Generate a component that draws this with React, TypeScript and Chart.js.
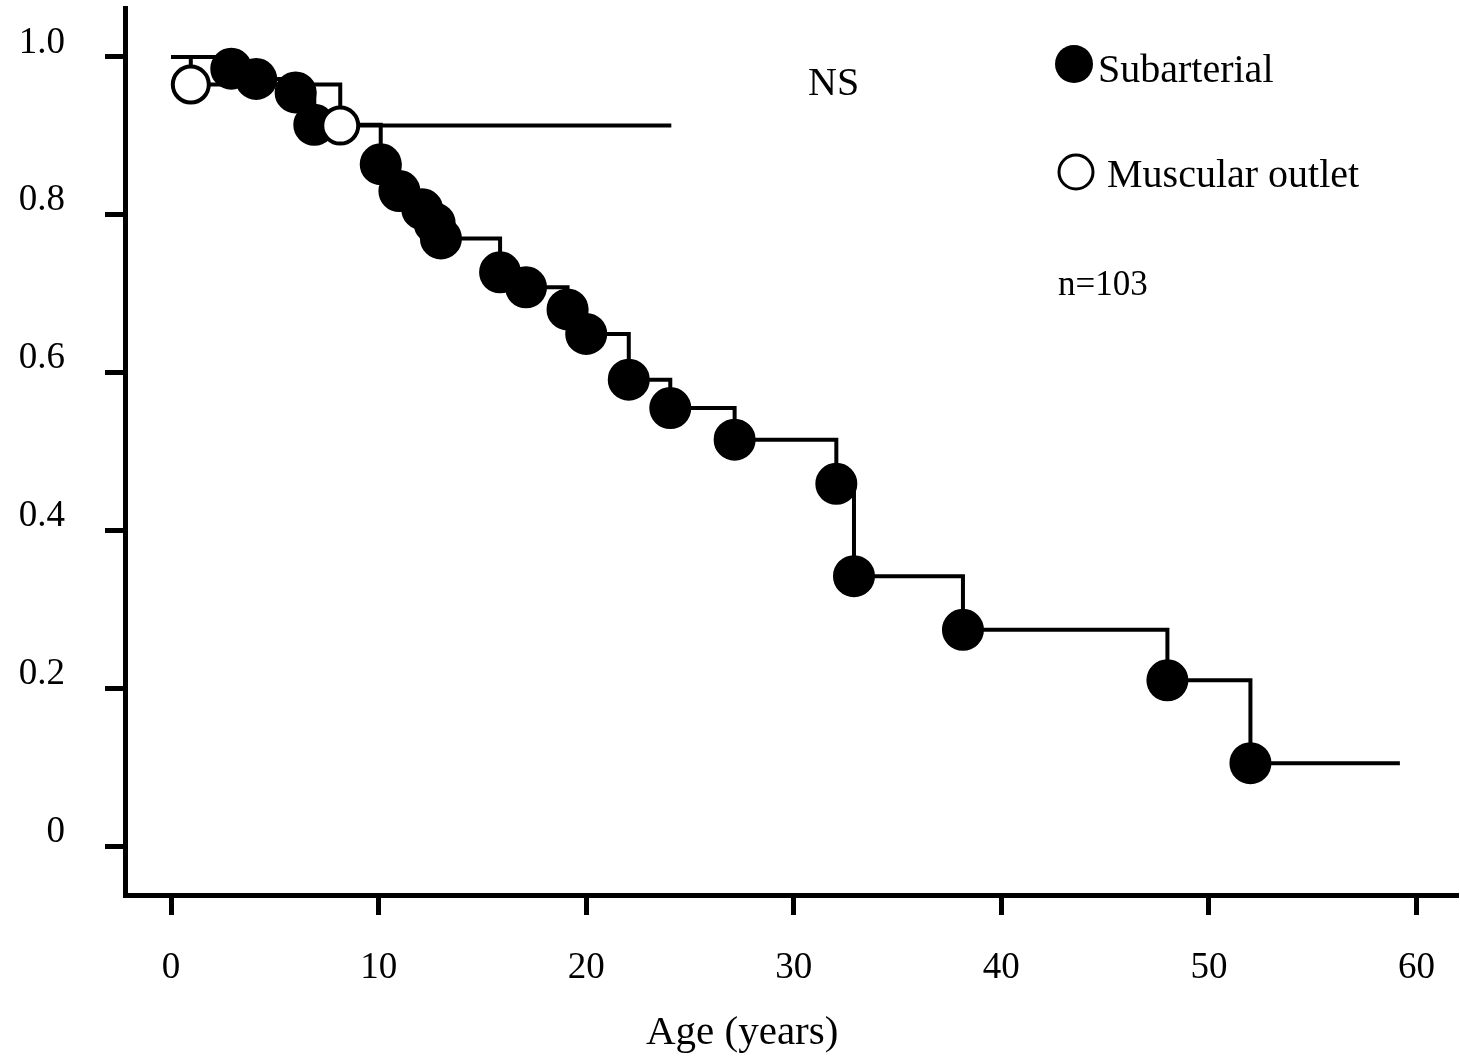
import React, { useEffect, useRef } from 'react';
import { Chart, registerables } from 'chart.js';

Chart.register(...registerables);

const SERIF = "'Liberation Serif', 'Times New Roman', serif";

// Axis ticks
const xTickValues = [0, 10, 20, 30, 40, 50, 60];
const yTickValues = [0, 0.2, 0.4, 0.6, 0.8, 1.0];

// Subarterial: ages (years) of events and survival after each event
const subarterialAge = [2.9, 4.1, 6.0, 6.9, 10.1, 11.0, 12.1, 12.7, 13.0, 15.85, 17.1, 19.1, 20.0, 22.05, 24.05, 27.15, 32.05, 32.9, 38.15, 48.0, 52.0];
const subarterialSurvival = [0.985, 0.972, 0.955, 0.914, 0.864, 0.830, 0.807, 0.789, 0.770, 0.727, 0.708, 0.680, 0.649, 0.591, 0.555, 0.515, 0.459, 0.342, 0.274, 0.210, 0.105];
const subarterialLastFollowUp = 59.2;

// Muscular outlet
const muscularAge = [0.95, 8.15];
const muscularSurvival = [0.965, 0.913];
const muscularLastFollowUp = 24.1;

const legendLabels = ['Subarterial', 'Muscular outlet'];
const noteText = 'n=103';
const significanceText = 'NS';
const xAxisTitle = 'Age (years)';

function buildCurve(ages: number[], surv: number[], end: number) {
  return [
    { x: 0, y: 1 },
    ...ages.map((a, i) => ({ x: a, y: surv[i] })),
    { x: end, y: surv[surv.length - 1] },
  ];
}

const annotationPlugin = {
  id: 'annotationPlugin',
  afterDraw(chart: any) {
    const ctx = chart.ctx as CanvasRenderingContext2D;
    ctx.save();
    ctx.fillStyle = '#000';
    ctx.strokeStyle = '#000';
    ctx.textAlign = 'left';
    ctx.textBaseline = 'alphabetic';
    ctx.font = `40px ${SERIF}`;
    ctx.fillText(significanceText, 808, 95);

    // legend
    ctx.beginPath();
    ctx.arc(1074, 64, 19, 0, Math.PI * 2);
    ctx.fill();
    ctx.fillText(legendLabels[0], 1098, 82);

    ctx.beginPath();
    ctx.arc(1076, 172, 17, 0, Math.PI * 2);
    ctx.fillStyle = '#fff';
    ctx.fill();
    ctx.lineWidth = 3;
    ctx.stroke();
    ctx.fillStyle = '#000';
    ctx.fillText(legendLabels[1], 1107, 187);

    ctx.font = `35px ${SERIF}`;
    ctx.fillText(noteText, 1058, 295);

    ctx.font = `41px ${SERIF}`;
    ctx.fillText(xAxisTitle, 646, 1044);
    ctx.restore();
  },
};

export default function App() {
  const canvasRef = useRef<HTMLCanvasElement | null>(null);

  useEffect(() => {
    document.body.style.margin = '0';
    const canvas = canvasRef.current;
    if (!canvas) return;

    const subData = buildCurve(subarterialAge, subarterialSurvival, subarterialLastFollowUp);
    const musData = buildCurve(muscularAge, muscularSurvival, muscularLastFollowUp);

    const endpointZero = (radius: number) => (ctx: any) => {
      const n = ctx.dataset.data.length;
      return ctx.dataIndex === 0 || ctx.dataIndex === n - 1 ? 0 : radius;
    };

    const chart = new Chart(canvas, {
      type: 'line',
      data: {
        datasets: [
          {
            label: legendLabels[1],
            data: musData,
            stepped: 'before',
            borderColor: '#000',
            borderWidth: 4,
            borderJoinStyle: 'miter',
            fill: false,
            pointRadius: endpointZero(18),
            pointHoverRadius: endpointZero(18),
            pointBackgroundColor: '#fff',
            pointBorderColor: '#000',
            pointBorderWidth: 4,
            order: 0,
          },
          {
            label: legendLabels[0],
            data: subData,
            stepped: 'before',
            borderColor: '#000',
            borderWidth: 4,
            borderJoinStyle: 'miter',
            fill: false,
            pointRadius: endpointZero(20),
            pointHoverRadius: endpointZero(20),
            pointBackgroundColor: '#000',
            pointBorderColor: '#000',
            pointBorderWidth: 2,
            order: 1,
          },
        ],
      },
      options: {
        responsive: false,
        animation: false,
        events: [],
        layout: { padding: { left: 0, right: 2, top: 8, bottom: 0 } },
        plugins: {
          legend: { display: false },
          tooltip: { enabled: false },
          title: { display: false },
        },
        scales: {
          x: {
            type: 'linear',
            min: -2.22,
            max: 62.0,
            afterBuildTicks: (scale: any) => {
              scale.ticks = xTickValues.map((v) => ({ value: v }));
            },
            afterFit: (scale: any) => {
              scale.height = 163;
              scale.paddingLeft = 0;
              scale.paddingRight = 0;
              scale.paddingTop = 0;
              scale.paddingBottom = 0;
            },
            grid: {
              display: true,
              drawOnChartArea: false,
              drawTicks: true,
              tickLength: 20,
              tickWidth: 5,
              tickColor: '#000',
            },
            border: { display: true, width: 5, color: '#000' },
            ticks: {
              color: '#000',
              font: { family: SERIF, size: 37 },
              padding: 31,
              maxRotation: 0,
              autoSkip: false,
              callback: (v: any) => String(v),
            },
          },
          y: {
            type: 'linear',
            min: -0.062,
            max: 1.062,
            afterBuildTicks: (scale: any) => {
              scale.ticks = yTickValues.map((v) => ({ value: v }));
            },
            afterFit: (scale: any) => {
              scale.width = 125;
              scale.paddingLeft = 0;
              scale.paddingRight = 0;
              scale.paddingTop = 0;
              scale.paddingBottom = 0;
            },
            grid: {
              display: true,
              drawOnChartArea: false,
              drawTicks: true,
              tickLength: 20,
              tickWidth: 5,
              tickColor: '#000',
            },
            border: { display: true, width: 5, color: '#000' },
            ticks: {
              color: '#000',
              font: { family: SERIF, size: 37 },
              padding: 40,
              labelOffset: -14,
              autoSkip: false,
              callback: (v: any) => (Number(v) === 0 ? '0' : Number(v).toFixed(1)),
            },
          },
        },
      },
      plugins: [annotationPlugin],
    } as any);

    return () => {
      chart.destroy();
    };
  }, []);

  return (
    <div style={{ width: 1460, height: 1058, background: '#fff' }}>
      <canvas ref={canvasRef} width={1460} height={1058} style={{ display: 'block' }} />
    </div>
  );
}
